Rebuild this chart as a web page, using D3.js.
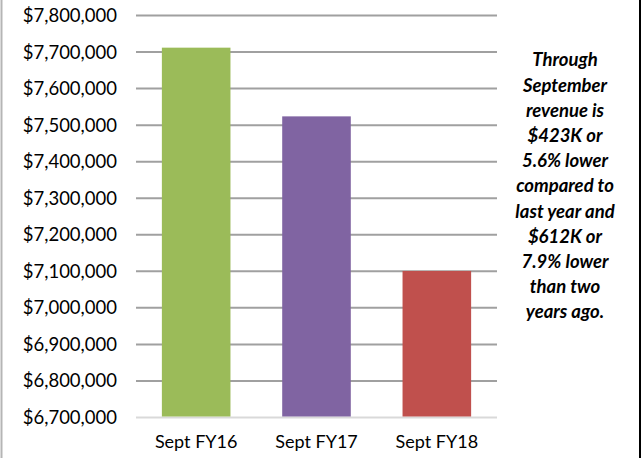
<!DOCTYPE html>
<html>
<head>
<meta charset="utf-8">
<script src="https://cdn.jsdelivr.net/npm/d3@7"></script>
<style>
  body { margin: 0; background: #fff; }
  svg { display: block; font-family: Lato, "Open Sans", sans-serif; }
</style>
</head>
<body>
<div class="container"></div>
<script>
const categories = ["Sept FY16", "Sept FY17", "Sept FY18"];
const revenue = [7712000, 7524000, 7101000];
const barColors = ["#9bbb59", "#8064a2", "#c0504d"];
const yTicks = [6700000, 6800000, 6900000, 7000000, 7100000, 7200000, 7300000, 7400000, 7500000, 7600000, 7700000, 7800000];
const noteLines = ["Through", "September", "revenue is", "$423K or", "5.6% lower", "compared to", "last year and", "$612K or", "7.9% lower", "than two", "years ago."];

const width = 643, height = 458;

const svg = d3.select(".container")
  .append("svg")
  .attr("width", width)
  .attr("height", height);

// frame edges
svg.append("line")
  .attr("x1", 1.5).attr("x2", 1.5).attr("y1", 0).attr("y2", height)
  .attr("stroke", "#b5b5b5").attr("stroke-width", 2);
svg.append("line")
  .attr("x1", 640).attr("x2", 640).attr("y1", 0).attr("y2", height)
  .attr("stroke", "#000").attr("stroke-width", 2);

const x = d3.scaleBand()
  .domain(categories)
  .range([136, 497])
  .paddingInner(0.43)
  .paddingOuter(0.215);

const y = d3.scaleLinear()
  .domain([6700000, 7800000])
  .range([417.5, 15.5]);

// gridlines
svg.append("g")
  .selectAll("line")
  .data(yTicks)
  .join("line")
  .attr("x1", 136)
  .attr("x2", 497)
  .attr("y1", d => y(d))
  .attr("y2", d => y(d))
  .attr("stroke", d => d === 6700000 ? "#d9d9d9" : "#a0a0a0")
  .attr("stroke-width", 2);

// y labels
const fmt = d3.format("$,");
svg.append("g")
  .selectAll("text")
  .data(yTicks)
  .join("text")
  .attr("x", 117)
  .attr("y", d => y(d))
  .attr("dy", "0.35em")
  .attr("text-anchor", "end")
  .attr("font-size", 18.5)
  .attr("fill", "#000")
  .text(d => fmt(d));

// bars
svg.append("g")
  .selectAll("rect")
  .data(revenue)
  .join("rect")
  .attr("x", (d, i) => x(categories[i]))
  .attr("width", x.bandwidth())
  .attr("y", d => y(d))
  .attr("height", d => y(6700000) - y(d) - 1)
  .attr("fill", (d, i) => barColors[i]);

// x labels
svg.append("g")
  .selectAll("text")
  .data(categories)
  .join("text")
  .attr("x", d => x(d) + x.bandwidth() / 2)
  .attr("y", 448)
  .attr("text-anchor", "middle")
  .attr("font-size", 18)
  .attr("fill", "#000")
  .text(d => d);

// note
svg.append("g")
  .selectAll("text")
  .data(noteLines)
  .join("text")
  .attr("x", 565)
  .attr("y", (d, i) => 60 + i * 25.2)
  .attr("dy", "0.35em")
  .attr("text-anchor", "middle")
  .attr("font-size", 18.5)
  .attr("font-weight", "bold")
  .attr("font-style", "italic")
  .attr("fill", "#000")
  .text(d => d);
</script>
</body>
</html>
